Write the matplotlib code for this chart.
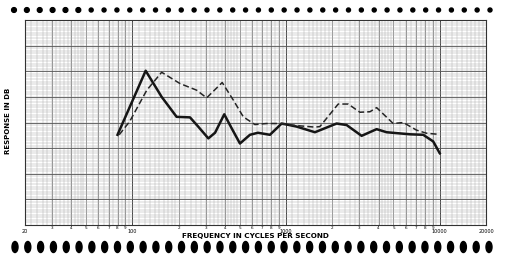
import numpy as np
import matplotlib
matplotlib.use("Agg")
import matplotlib.pyplot as plt
from matplotlib.patches import Ellipse, Circle

# response curves (Hz, dB)
solid_freq = [80, 122, 155, 194, 237, 268, 312, 345, 396, 442, 501, 582, 656, 785,
              936, 1172, 1541, 2134, 2478, 3102, 3884, 4512, 6396, 7806, 9070, 10000]
solid_db = [17.6, 30.1, 25.0, 21.1, 21.0, 19.2, 16.9, 18.0, 21.6, 18.9, 15.9, 17.6, 18.0, 17.6,
            19.8, 19.2, 18.1, 19.8, 19.5, 17.4, 18.7, 18.1, 17.7, 17.6, 16.3, 14.0]

dashed_freq = [82, 96, 124, 155, 204, 262, 304, 384, 453, 527, 627, 747, 912, 1172,
               1541, 1660, 2184, 2538, 3024, 3514, 3884, 4980, 5786, 7074, 8216, 9774]
dashed_db = [17.6, 20.2, 26.3, 29.8, 27.6, 26.3, 24.8, 27.8, 24.4, 21.1, 19.6, 19.8, 19.8, 19.4,
             19.1, 19.2, 23.6, 23.6, 22.0, 22.1, 22.9, 19.8, 20.0, 18.5, 17.9, 17.7]

major_ticks = [20, 100, 1000, 10000, 20000]
major_labels = ["20", "100", "1000", "10000", "20000"]
minor_ticks = [30, 40, 50, 60, 70, 80, 90,
               200, 300, 400, 500, 600, 700, 800, 900,
               2000, 3000, 4000, 5000, 6000, 7000, 8000, 9000]
minor_labels = ["3", "4", "5", "6", "7", "8", "9"] + ["2", "3", "4", "5", "6", "7", "8", "9"] * 2

W, H = 505, 254
fig = plt.figure(figsize=(W / 100, H / 100), dpi=100)
fig.patch.set_facecolor("white")
ax = fig.add_axes([25 / W, 1 - 225 / H, (486 - 25) / W, 205 / H])
ax.set_xscale("log")
ax.set_xlim(20, 20000)
ax.set_ylim(0, 40)

# graph paper grid
fine = []
for dec in [10, 100, 1000, 10000]:
    fine += list(np.arange(1.1, 2.0, 0.1) * dec)
    fine += list(np.arange(2.2, 5.0, 0.2) * dec)
    fine += list(np.arange(5.5, 10.0, 0.5) * dec)
for f in fine:
    if 20 < f < 20000:
        ax.axvline(f, color="#b0b0b0", lw=0.35, zorder=0)
for f in minor_ticks:
    ax.axvline(f, color="#707070", lw=0.5, zorder=0)
for f in major_ticks[1:-1]:
    ax.axvline(f, color="#404040", lw=0.7, zorder=0)
for y in np.arange(0.5, 40, 0.5):
    ax.axhline(y, color="#b0b0b0", lw=0.35, zorder=0)
for y in range(5, 40, 5):
    ax.axhline(y, color="#555555", lw=0.6, zorder=0)

ax.plot(solid_freq, solid_db, color="#151515", lw=1.8, solid_joinstyle="round", zorder=3)
ax.plot(dashed_freq, dashed_db, color="#252525", lw=1.1, dashes=(4, 2), zorder=3)

ax.set_xticks(major_ticks)
ax.set_xticklabels(major_labels, fontsize=3.5)
ax.set_xticks(minor_ticks, minor=True)
ax.set_xticklabels(minor_labels, minor=True, fontsize=3)
ax.set_yticks([])
ax.tick_params(axis="x", which="major", length=0, pad=3)
ax.tick_params(axis="x", which="minor", length=0, pad=0.8)
for s in ax.spines.values():
    s.set_linewidth(0.8)
    s.set_color("#333333")

fig.text(255.5 / W, 1 - 236 / H, "FREQUENCY IN CYCLES PER SECOND", fontsize=5.2,
         fontweight="bold", ha="center", va="center")
fig.text(8 / W, 1 - 121 / H, "RESPONSE IN DB", fontsize=5, fontweight="bold",
         rotation=90, ha="center", va="center")

# sprocket holes of the chart paper
deco = fig.add_axes([0, 0, 1, 1])
deco.set_xlim(0, W)
deco.set_ylim(H, 0)
deco.axis("off")
for i, x in enumerate(np.linspace(14, 490, 38)):
    r = 2.4 if i < 6 else 2.0
    deco.add_patch(Circle((x, 10), r, color="black"))
for x in np.linspace(15, 489, 38):
    deco.add_patch(Ellipse((x, 247), 6, 11, color="black"))

fig.savefig("out.png", dpi=100)
